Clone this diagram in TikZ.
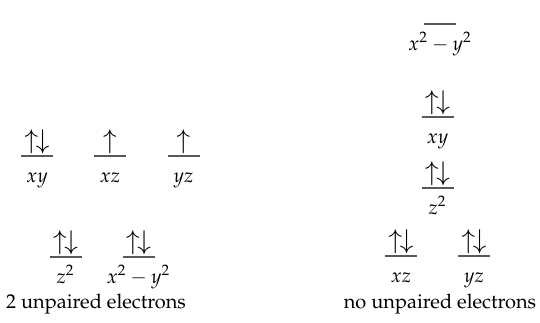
\documentclass[tikz,border=0pt]{standalone}
\usepackage{mathpazo}
\usepackage[T1]{fontenc}
\newcommand\orbital[5]{% name, x, line y, electrons, label
  \coordinate (#1) at (#2,#3);
  \draw[level] (#2-16,#3) -- (#2+16,#3);
  \node[elec] (#1e) at (#2,#3-8) {#4};
  \node[lab] (#1l) at (#2,#3+26) {#5};
}
\newcommand\pair{$\uparrow\mkern-2mu\downarrow$}
\newcommand\single{$\uparrow$}
\begin{document}
\begin{tikzpicture}[x=0.5pt,y=-0.5pt,
  level/.style={draw=black!65,line width=0.6pt},
  elec/.style={anchor=base,inner sep=0pt,font=\fontsize{13}{15}\selectfont},
  lab/.style={anchor=base,inner sep=0pt},
  caption/.style={anchor=base,inner sep=0pt}]
\useasboundingbox (0,0) rectangle (540,322);
% (a) tetrahedral
\orbital{axy}{37}{156}{\pair}{$xy$}
\orbital{axz}{110}{156}{\single}{$xz$}
\orbital{ayz}{183.5}{156}{\single}{$yz$}
\orbital{az}{65.5}{257}{\pair}{$z^2$}
\orbital{axy2}{138.5}{257}{\pair}{$x^2-y^2$}
\node[caption] (acap) at (96,308) {2 unpaired electrons};
% (b) square planar
\orbital{bxy2}{440}{24}{}{$x^2-y^2$}
\orbital{bxy}{437.5}{117}{\pair}{$xy$}
\orbital{bz}{437.5}{188}{\pair}{$z^2$}
\orbital{bxz}{401}{256}{\pair}{$xz$}
\orbital{byz}{474}{256}{\pair}{$yz$}
\node[caption] (bcap) at (440,308) {no unpaired electrons};
\end{tikzpicture}
\end{document}
